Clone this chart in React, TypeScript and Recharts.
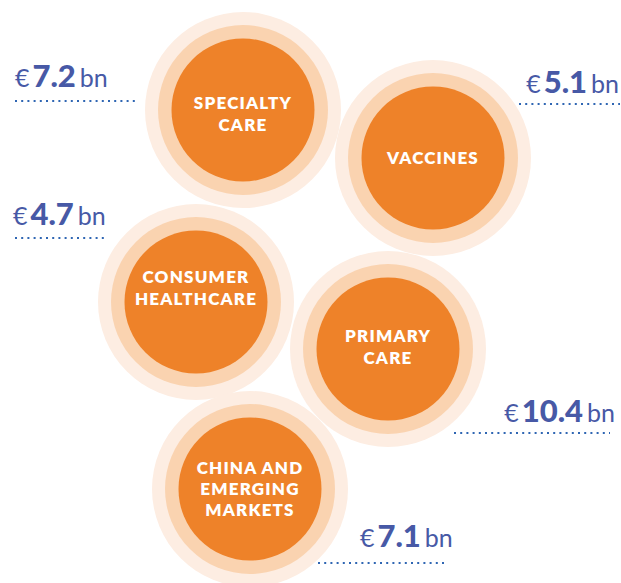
import { ScatterChart, Scatter, XAxis, YAxis, ReferenceLine } from "recharts";

// business segments and their revenue (€ bn)
const segmentLines = [
  ["SPECIALTY", "CARE"],
  ["VACCINES"],
  ["CONSUMER", "HEALTHCARE"],
  ["PRIMARY", "CARE"],
  ["CHINA AND", "EMERGING", "MARKETS"],
];
const revenue = [7.2, 5.1, 4.7, 10.4, 7.1];

// layout (chart units = px, domain 0..621 x 0..583)
const bubbleX = [243, 433, 196, 388, 250];
const bubbleY = [110, 158, 302, 349, 489];
const labelShift = [3.5, 0, -14, -2.5, 0];
const lineGap = [22, 22, 22, 22, 21];

const valueX = [15, 619, 13, 615, 360];
const valueY = [87, 93, 225, 422, 547];
const valueAnchor = ["start", "end", "start", "end", "start"];
const leaderFrom = [15, 519, 15, 454, 318];
const leaderTo = [135, 620, 107, 610, 448];
const leaderY = [101, 104, 238, 433, 563];

const W = 621;
const H = 583;

const bubbles = segmentLines.map((lines, i) => ({
  lines,
  x: bubbleX[i],
  y: bubbleY[i],
  shift: labelShift[i],
  gap: lineGap[i],
}));

const values = revenue.map((v, i) => ({
  v,
  x: valueX[i],
  y: valueY[i],
  anchor: valueAnchor[i],
}));

const BLUE = "#4759a6";

function Bubble(props: any) {
  const { cx, cy, payload } = props;
  const lines: string[] = payload.lines;
  const lh = payload.gap;
  const first = cy + payload.shift - ((lines.length - 1) * lh) / 2 + 6.3;
  return (
    <g>
      <circle cx={cx} cy={cy} r={98} fill="#fdede2" />
      <circle cx={cx} cy={cy} r={85} fill="#fad3b0" />
      <circle cx={cx} cy={cy} r={71.5} fill="#ee8229" />
      <text
        textAnchor="middle"
        fill="#fff"
        fontFamily="Lato, sans-serif"
        fontWeight={800}
        fontSize={17}
        letterSpacing={1.2}
      >
        {lines.map((l, j) => (
          <tspan key={j} x={cx} y={first + j * lh}>
            {l}
          </tspan>
        ))}
      </text>
    </g>
  );
}

function ValueLabel(props: any) {
  const { cx, cy, payload } = props;
  return (
    <text
      x={cx}
      y={cy}
      textAnchor={payload.anchor}
      fill={BLUE}
      fontFamily="Lato, sans-serif"
    >
      <tspan fontSize={25}>€</tspan>
      <tspan dx={3} fontSize={31} fontWeight={900}>
        {payload.v.toFixed(1)}
      </tspan>
      <tspan dx={4} fontSize={25}>
        bn
      </tspan>
    </text>
  );
}

export default function App() {
  return (
    <div style={{ width: W, height: H, background: "#fff" }}>
      <style>{`body{margin:0}`}</style>
      <ScatterChart width={W} height={H} margin={{ top: 0, right: 0, bottom: 0, left: 0 }}>
        <XAxis type="number" dataKey="x" domain={[0, W]} hide allowDataOverflow />
        <YAxis type="number" dataKey="y" domain={[0, H]} reversed hide allowDataOverflow />
        <Scatter data={bubbles} shape={Bubble} isAnimationActive={false} />
        {leaderY.map((y, i) => (
          <ReferenceLine
            key={i}
            segment={[
              { x: leaderFrom[i], y },
              { x: leaderTo[i], y },
            ]}
            stroke="#2f66b3"
            strokeWidth={2}
            strokeDasharray="2 4.2"
            ifOverflow="visible"
          />
        ))}
        <Scatter data={values} shape={ValueLabel} isAnimationActive={false} />
      </ScatterChart>
    </div>
  );
}
